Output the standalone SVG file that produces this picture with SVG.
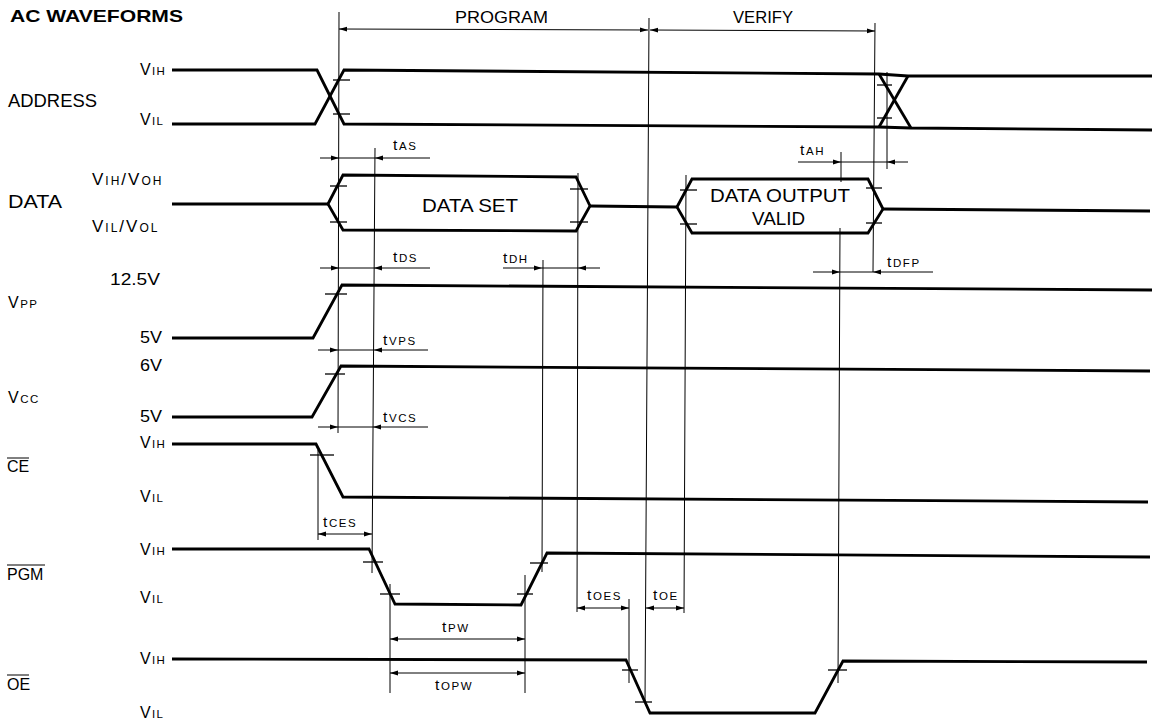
<svg xmlns="http://www.w3.org/2000/svg" width="1157" height="720" viewBox="0 0 1157 720">
<style>
.sig{fill:none;stroke:#000;stroke-width:2.8;stroke-linejoin:miter}
.dim{fill:none;stroke:#000;stroke-width:1}
.tick{fill:none;stroke:#000;stroke-width:1.3}
.ar{marker-end:url(#ah)}
.dbl{marker-start:url(#ah);marker-end:url(#ah)}
text{font-family:"Liberation Sans",Arial,Helvetica,sans-serif;fill:#000}
.lv{font-size:16px;letter-spacing:1.3px}
.sb{font-size:11.5px}
.tl{font-size:15.5px;letter-spacing:1.6px}
.nm{font-size:18px}
.bx{font-size:19px}
</style>
<defs>
<marker id="ah" viewBox="0 0 8 6" refX="8" refY="3" markerWidth="8" markerHeight="6" markerUnits="userSpaceOnUse" orient="auto-start-reverse"><path d="M0,0.6 L8,3 L0,5.4z" fill="#000"/></marker>
</defs>
<rect width="1157" height="720" fill="#fff"/>

<text x="10" y="22" font-size="17" font-weight="bold" textLength="173" lengthAdjust="spacingAndGlyphs">AC WAVEFORMS</text>
<text x="455" y="23" font-size="16" textLength="93" lengthAdjust="spacingAndGlyphs">PROGRAM</text>
<text x="733" y="23" font-size="16" textLength="60" lengthAdjust="spacingAndGlyphs">VERIFY</text>

<g id="address">
<text class="nm" x="8" y="107" textLength="89" lengthAdjust="spacingAndGlyphs">ADDRESS</text>
<text class="lv" x="140" y="75">V<tspan class="sb">IH</tspan></text>
<text class="lv" x="140" y="125">V<tspan class="sb">IL</tspan></text>
<polyline class="sig" points="172,70 317,70 344,124 879,127 911,128 1152,130"/>
<polyline class="sig" points="172,124 315,124 344,70 879,74 908,76 1152,76"/>
<polyline class="sig" points="879,74 911,128"/>
<polyline class="sig" points="879,127 908,76"/>
<line class="tick" x1="333" y1="80" x2="350" y2="80"/>
<line class="tick" x1="333" y1="114" x2="350" y2="114"/>
<line class="tick" x1="877" y1="85" x2="892" y2="85"/>
<line class="tick" x1="877" y1="118" x2="892" y2="118"/>
</g>

<g id="data">
<text class="nm" x="8" y="208" textLength="54" lengthAdjust="spacingAndGlyphs">DATA</text>
<text x="92" y="185" font-size="17" letter-spacing="2">V<tspan font-size="12">IH</tspan>/V<tspan font-size="12">OH</tspan></text>
<text x="92" y="232" font-size="17" letter-spacing="2">V<tspan font-size="12">IL</tspan>/V<tspan font-size="12">OL</tspan></text>
<polyline class="sig" points="172,204 328,204"/>
<polygon class="sig" points="328,204 343,175 576,177 590,206 576,231 343,230"/>
<polyline class="sig" points="590,206 677,207"/>
<polygon class="sig" points="677,207 692,179 868,179 883,209 868,233 692,233"/>
<polyline class="sig" points="883,209 1150,211"/>
<text class="bx" x="422" y="212" textLength="96" lengthAdjust="spacingAndGlyphs">DATA SET</text>
<text class="bx" x="710" y="202" textLength="140" lengthAdjust="spacingAndGlyphs">DATA OUTPUT</text>
<text class="bx" x="752" y="225" textLength="53" lengthAdjust="spacingAndGlyphs">VALID</text>
<line class="tick" x1="330" y1="186" x2="347" y2="186"/>
<line class="tick" x1="330" y1="222" x2="347" y2="222"/>
<line class="tick" x1="570" y1="189" x2="588" y2="189"/>
<line class="tick" x1="570" y1="222" x2="588" y2="222"/>
<line class="tick" x1="680" y1="190" x2="697" y2="190"/>
<line class="tick" x1="680" y1="224" x2="697" y2="224"/>
<line class="tick" x1="866" y1="188" x2="882" y2="188"/>
<line class="tick" x1="866" y1="223" x2="882" y2="223"/>
</g>

<g id="vpp">
<text x="8" y="308" font-size="16" letter-spacing="1.5">V<tspan class="sb">PP</tspan></text>
<text x="110" y="285" font-size="17" textLength="50" lengthAdjust="spacingAndGlyphs">12.5V</text>
<text x="140" y="343" font-size="16" textLength="22" lengthAdjust="spacingAndGlyphs">5V</text>
<polyline class="sig" points="172,338 313,338 342,285 1152,290"/>
<line class="tick" x1="325" y1="294" x2="347" y2="294"/>
</g>

<g id="vcc">
<text x="8" y="403" font-size="16" letter-spacing="1.5">V<tspan class="sb">CC</tspan></text>
<text x="140" y="371" font-size="16" textLength="22" lengthAdjust="spacingAndGlyphs">6V</text>
<text x="140" y="422" font-size="16" textLength="22" lengthAdjust="spacingAndGlyphs">5V</text>
<polyline class="sig" points="172,417 312,417 341,366 1150,371"/>
<line class="tick" x1="325" y1="374" x2="345" y2="374"/>
</g>

<g id="ce">
<text x="7" y="472" font-size="16">CE</text>
<line class="dim" x1="7" y1="458" x2="29" y2="458"/>
<text class="lv" x="140" y="448">V<tspan class="sb">IH</tspan></text>
<text class="lv" x="140" y="502">V<tspan class="sb">IL</tspan></text>
<polyline class="sig" points="172,444 316,444 343,497 1148,502"/>
<line class="tick" x1="310" y1="455" x2="334" y2="455"/>
</g>

<g id="pgm">
<text x="7" y="580" font-size="16">PGM</text>
<line class="dim" x1="7" y1="565" x2="45" y2="565"/>
<text class="lv" x="140" y="555">V<tspan class="sb">IH</tspan></text>
<text class="lv" x="140" y="603">V<tspan class="sb">IL</tspan></text>
<polyline class="sig" points="172,549 369,549 395,604 521,605 547,553 1150,557"/>
<line class="tick" x1="363" y1="562" x2="383" y2="562"/>
<line class="tick" x1="380" y1="594" x2="400" y2="594"/>
<line class="tick" x1="517" y1="594" x2="533" y2="594"/>
<line class="tick" x1="530" y1="563" x2="548" y2="563"/>
</g>

<g id="oe">
<text x="7" y="690" font-size="16">OE</text>
<line class="dim" x1="7" y1="675" x2="29" y2="675"/>
<text class="lv" x="140" y="664">V<tspan class="sb">IH</tspan></text>
<text class="lv" x="140" y="718">V<tspan class="sb">IL</tspan></text>
<polyline class="sig" points="172,659 626,660 650,713 815,713 843,661 1147,662"/>
<line class="tick" x1="622" y1="670" x2="638" y2="670"/>
<line class="tick" x1="635" y1="702" x2="652" y2="702"/>
<line class="tick" x1="828" y1="670" x2="847" y2="670"/>
</g>

<g id="connectors">
<line class="dim" x1="339" y1="12" x2="338" y2="433"/>
<line class="dim" x1="375" y1="148" x2="372" y2="573"/>
<line class="dim" x1="318" y1="450" x2="318" y2="540"/>
<line class="dim" x1="390" y1="584" x2="390" y2="693"/>
<line class="dim" x1="525" y1="575" x2="525" y2="693"/>
<line class="dim" x1="543" y1="260" x2="542" y2="572"/>
<line class="dim" x1="578" y1="173" x2="577" y2="612"/>
<line class="dim" x1="649" y1="18" x2="645" y2="703"/>
<line class="dim" x1="629" y1="599" x2="629" y2="683"/>
<line class="dim" x1="686" y1="175" x2="684" y2="613"/>
<line class="dim" x1="841" y1="152" x2="841" y2="182"/>
<line class="dim" x1="840" y1="228" x2="838" y2="683"/>
<line class="dim" x1="875" y1="23" x2="873" y2="272"/>
<line class="dim" x1="887" y1="72" x2="887" y2="169"/>
<line class="dim dbl" x1="339" y1="29" x2="648" y2="30"/>
<line class="dim dbl" x1="650" y1="30" x2="875" y2="31"/>
<line class="dim ar" x1="320" y1="158" x2="339" y2="158"/>
<line class="dim" x1="339" y1="158" x2="375" y2="158"/>
<line class="dim ar" x1="430" y1="158" x2="375" y2="158"/>
<text class="tl" x="393" y="150">t<tspan class="sb">AS</tspan></text>
<line class="dim ar" x1="320" y1="268" x2="339" y2="268"/>
<line class="dim" x1="339" y1="268" x2="374" y2="268"/>
<line class="dim ar" x1="430" y1="268" x2="374" y2="268"/>
<text class="tl" x="393" y="262">t<tspan class="sb">DS</tspan></text>
<line class="dim ar" x1="503" y1="268" x2="542" y2="268"/>
<line class="dim" x1="542" y1="268" x2="578" y2="268"/>
<line class="dim ar" x1="600" y1="268" x2="578" y2="268"/>
<text class="tl" x="503" y="263">t<tspan class="sb">DH</tspan></text>
<line class="dim ar" x1="798" y1="162" x2="841" y2="162"/>
<line class="dim" x1="841" y1="162" x2="887" y2="162"/>
<line class="dim ar" x1="908" y1="162" x2="887" y2="162"/>
<text class="tl" x="800" y="155">t<tspan class="sb">AH</tspan></text>
<line class="dim ar" x1="813" y1="272" x2="840" y2="272"/>
<line class="dim" x1="840" y1="272" x2="873" y2="272"/>
<line class="dim ar" x1="933" y1="272" x2="873" y2="272"/>
<text class="tl" x="887" y="267">t<tspan class="sb">DFP</tspan></text>
<line class="dim ar" x1="318" y1="350" x2="338" y2="350"/>
<line class="dim" x1="338" y1="350" x2="374" y2="350"/>
<line class="dim ar" x1="428" y1="350" x2="374" y2="350"/>
<text class="tl" x="383" y="345">t<tspan class="sb">VPS</tspan></text>
<line class="dim ar" x1="318" y1="427" x2="338" y2="427"/>
<line class="dim" x1="338" y1="427" x2="373" y2="427"/>
<line class="dim ar" x1="428" y1="427" x2="373" y2="427"/>
<text class="tl" x="383" y="422">t<tspan class="sb">VCS</tspan></text>
<line class="dim dbl" x1="318" y1="534" x2="372" y2="534"/>
<text class="tl" x="323" y="527">t<tspan class="sb">CES</tspan></text>
<line class="dim dbl" x1="390" y1="639" x2="525" y2="639"/>
<text class="tl" x="442" y="632">t<tspan class="sb">PW</tspan></text>
<line class="dim dbl" x1="390" y1="673" x2="525" y2="673"/>
<text class="tl" x="435" y="690">t<tspan class="sb">OPW</tspan></text>
<line class="dim dbl" x1="577" y1="608" x2="629" y2="608"/>
<text class="tl" x="587" y="600">t<tspan class="sb">OES</tspan></text>
<line class="dim dbl" x1="646" y1="608" x2="684" y2="608"/>
<text class="tl" x="653" y="600">t<tspan class="sb">OE</tspan></text>
</g>
</svg>
